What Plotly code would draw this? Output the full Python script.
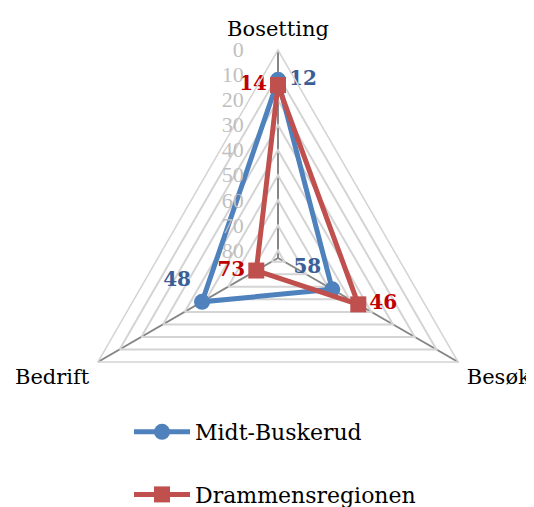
import plotly.graph_objects as go

categories = ["Bosetting", "Besøk", "Bedrift"]
midt_buskerud = [12, 58, 48]
drammensregionen = [14, 46, 73]
radial_ticks = [0, 10, 20, 30, 40, 50, 60, 70, 80]
radial_max = 83

BLUE = "#4F81BD"
RED = "#C0504D"
BLUE_TXT = "#3A5E95"
RED_TXT = "#C00000"


def closed(v):
    return list(v) + list(v[:1])


fig = go.Figure()
fig.add_trace(go.Scatterpolar(
    r=closed(midt_buskerud), theta=closed(categories),
    mode="lines+markers+text", name="Midt-Buskerud", legendgroup="a",
    text=[str(v) for v in midt_buskerud] + [""],
    textposition=["middle right", "top left", "top left", "middle right"],
    textfont=dict(family="DejaVu Serif", size=20, color=BLUE_TXT, weight="bold"),
    line=dict(color=BLUE, width=5),
    marker=dict(symbol="circle", size=16, color=BLUE),
    cliponaxis=False,
))
fig.add_trace(go.Scatterpolar(
    r=closed(drammensregionen), theta=closed(categories),
    mode="lines+markers+text", name="Drammensregionen", legendgroup="b",
    text=[str(v) for v in drammensregionen] + [""],
    textposition=["middle left", "middle right", "middle left", "middle left"],
    textfont=dict(family="DejaVu Serif", size=20, color=RED_TXT, weight="bold"),
    line=dict(color=RED, width=5),
    marker=dict(symbol="square", size=16, color=RED),
    cliponaxis=False,
))

# page body has an 8px margin; size the figure to fit inside the window
OFF = 8
W, H = 534 - OFF, 507 - OFF
cx, cy, R = 278 - OFF, 258 - OFF, 208
fig.update_layout(
    width=W, height=H,
    margin=dict(l=0, r=0, t=0, b=0, autoexpand=False),
    paper_bgcolor="white", plot_bgcolor="white",
    font=dict(family="DejaVu Serif", size=22, color="black"),
    polar=dict(
        domain=dict(x=[(cx - R) / W, (cx + R) / W], y=[1 - (cy + R) / H, 1 - (cy - R) / H]),
        bgcolor="white",
        gridshape="linear",
        radialaxis=dict(
            range=[radial_max, 0], tickvals=radial_ticks, angle=90,
            side="counterclockwise", tickangle=90,
            showline=False, gridcolor="#D4D4D4", gridwidth=1.5,
            ticks="outside", ticklen=26, tickcolor="rgba(0,0,0,0)",
            tickfont=dict(family="Liberation Serif", size=22, color="#BFBFBF"),
        ),
        angularaxis=dict(
            direction="clockwise", rotation=90,
            showline=True, linecolor="#D4D4D4", linewidth=1.5,
            gridcolor="#868686", gridwidth=1.5,
            ticks="outside", ticklen=5, tickcolor="rgba(0,0,0,0)",
            tickfont=dict(family="DejaVu Serif", size=21, color="black"),
        ),
    ),
    showlegend=True,
    legend=dict(
        x=121 / W, y=1 - 403 / H,
        xanchor="left", yanchor="top",
        orientation="v", tracegroupgap=31, itemwidth=56,
        font=dict(family="DejaVu Serif", size=22, color="black"),
        bgcolor="rgba(0,0,0,0)",
    ),
)

fig.write_html("out.html")
